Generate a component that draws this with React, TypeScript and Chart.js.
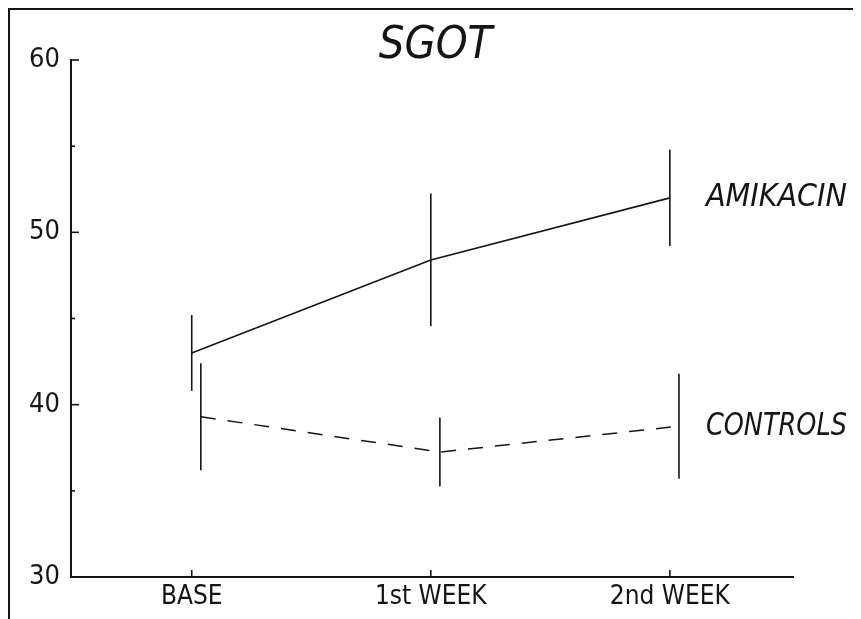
import React, { useEffect, useRef } from 'react';
import { Chart, registerables } from 'chart.js';

Chart.register(...registerables);

const TITLE = 'SGOT';
const CATEGORIES = ['BASE', '1st WEEK', '2nd WEEK'];
const Y_LABELED_TICKS = [30, 40, 50, 60];
const AMIKACIN_MEAN = [43.0, 48.4, 52.0];
const AMIKACIN_ERR = [2.2, 3.85, 2.8];
const CONTROLS_MEAN = [39.3, 37.25, 38.75];
const CONTROLS_ERR = [3.1, 2.0, 3.05];
const SERIES_NAMES = ['AMIKACIN', 'CONTROLS'];
const CONTROLS_SHIFT = 0.038;

const INK = '#151515';
const FONT = "'DejaVu Sans Condensed', 'DejaVu Sans', sans-serif";

const overlayPlugin = {
  id: 'overlay',
  afterDatasetsDraw(chart: any) {
    const { ctx, chartArea, scales, width } = chart;
    const x = scales.x;
    const y = scales.y;
    ctx.save();
    ctx.strokeStyle = INK;
    ctx.fillStyle = INK;
    ctx.lineWidth = 1.6;
    chart.data.datasets.forEach((ds: any) => {
      ds.data.forEach((p: any, i: number) => {
        const px = x.getPixelForValue(p.x);
        ctx.beginPath();
        ctx.moveTo(px, y.getPixelForValue(p.y + ds.errors[i]));
        ctx.lineTo(px, y.getPixelForValue(p.y - ds.errors[i]));
        ctx.stroke();
      });
      const last = ds.data[ds.data.length - 1];
      ctx.font = `italic 32px ${FONT}`;
      ctx.textAlign = 'left';
      ctx.textBaseline = 'middle';
      ctx.fillText(ds.label, x.getPixelForValue(CATEGORIES.length - 1) + 36, y.getPixelForValue(last.y), 141);
    });
    // title
    ctx.font = `italic 45px ${FONT}`;
    ctx.textAlign = 'center';
    ctx.textBaseline = 'alphabetic';
    ctx.fillText(TITLE, width / 2, 48);
    // inward tick marks
    ctx.lineWidth = 1.6;
    y.ticks.forEach((t: any) => {
      if (t.value === y.min) return;
      const py = y.getPixelForValue(t.value);
      const len = Y_LABELED_TICKS.includes(t.value) ? 8 : 4;
      ctx.beginPath();
      ctx.moveTo(chartArea.left, py);
      ctx.lineTo(chartArea.left + len, py);
      ctx.stroke();
    });
    x.ticks.forEach((t: any) => {
      const px = x.getPixelForValue(t.value);
      ctx.beginPath();
      ctx.moveTo(px, chartArea.bottom);
      ctx.lineTo(px, chartArea.bottom - 7);
      ctx.stroke();
    });
    ctx.restore();
  },
};

export default function App() {
  const ref = useRef<HTMLCanvasElement | null>(null);

  useEffect(() => {
    if (!ref.current) return;
    const chart = new Chart(ref.current, {
      type: 'line',
      data: {
        datasets: [
          {
            label: SERIES_NAMES[0],
            data: AMIKACIN_MEAN.map((v, i) => ({ x: i, y: v })),
            errors: AMIKACIN_ERR,
            borderColor: INK,
            borderWidth: 1.6,
            pointRadius: 0,
            tension: 0,
            fill: false,
          } as any,
          {
            label: SERIES_NAMES[1],
            data: CONTROLS_MEAN.map((v, i) => ({ x: i + CONTROLS_SHIFT, y: v })),
            errors: CONTROLS_ERR,
            borderColor: INK,
            borderWidth: 1.5,
            borderDash: [15, 12],
            pointRadius: 0,
            tension: 0,
            fill: false,
          } as any,
        ],
      },
      options: {
        responsive: false,
        animation: false,
        layout: { padding: { left: 0, right: 68, top: 50, bottom: 0 } },
        plugins: {
          legend: { display: false },
          tooltip: { enabled: false },
          title: { display: false },
        },
        scales: {
          x: {
            type: 'linear',
            min: -0.505,
            max: 2.515,
            afterBuildTicks: (scale: any) => {
              scale.ticks = CATEGORIES.map((_, i) => ({ value: i }));
            },
            afterFit: (scale: any) => {
              scale.height = 42;
            },
            grid: { display: true, drawOnChartArea: false, drawTicks: false },
            border: { display: true, color: INK, width: 2 },
            ticks: {
              autoSkip: false,
              maxRotation: 0,
              padding: 5,
              color: INK,
              font: { family: FONT, size: 26 },
              callback: (v: any) => CATEGORIES[v] ?? '',
            },
          },
          y: {
            type: 'linear',
            min: 30,
            max: 60,
            afterFit: (scale: any) => {
              scale.width = 61;
            },
            grid: { display: true, drawOnChartArea: false, drawTicks: false },
            border: { display: true, color: INK, width: 2 },
            ticks: {
              stepSize: 5,
              padding: 11,
              color: INK,
              font: { family: FONT, size: 27 },
              callback: (v: any) => (Y_LABELED_TICKS.includes(v) ? String(v) : ''),
            },
          },
        },
      },
      plugins: [overlayPlugin],
    } as any);
    return () => chart.destroy();
  }, []);

  return (
    <div
      style={{
        width: 851,
        height: 609,
        borderLeft: `2px solid ${INK}`,
        borderTop: `2px solid ${INK}`,
        background: '#fff',
      }}
    >
      <canvas ref={ref} width={851} height={609} style={{ display: 'block' }} />
    </div>
  );
}
